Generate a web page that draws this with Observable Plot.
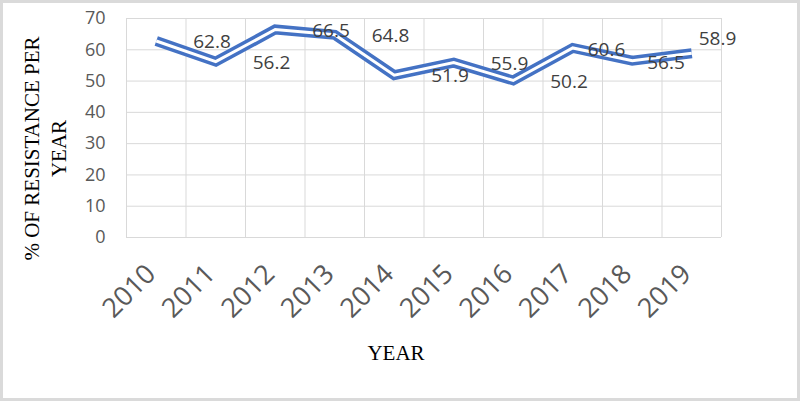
<!DOCTYPE html>
<html>
<head>
<meta charset="utf-8">
<script src="https://cdn.jsdelivr.net/npm/d3@7"></script>
<script src="https://cdn.jsdelivr.net/npm/@observablehq/plot@0.6"></script>
<style>
  html, body { margin: 0; padding: 0; background: #fff; }
  #wrap { position: relative; width: 800px; height: 401px; overflow: hidden; }
  #wrap svg { position: absolute; left: 0; top: 0; }
  #border { position: absolute; left: 0; top: 0; width: 800px; height: 401px; box-sizing: border-box; border: 3px solid #dadada; pointer-events: none; }
</style>
</head>
<body>
<div id="wrap"><div id="border"></div></div>
<script>
const years = [2010, 2011, 2012, 2013, 2014, 2015, 2016, 2017, 2018, 2019];
const resistance = [62.8, 56.2, 66.5, 64.8, 51.9, 55.9, 50.2, 60.6, 56.5, 58.9];
const yTicks = [0, 10, 20, 30, 40, 50, 60, 70];
const xTitle = "YEAR";
const yTitle = "% OF RESISTANCE PER\nYEAR";

const data = years.map((year, i) => ({year, value: resistance[i], i}));
const bounds = [years[0] - 0.5, ...years.map(y => y + 0.5)];

const sans = "'Open Sans', sans-serif";
const serif = "'Liberation Serif', 'Times New Roman', serif";

const chart = Plot.plot({
  width: 800,
  height: 401,
  marginLeft: 126,
  marginRight: 79,
  marginTop: 18,
  marginBottom: 164,
  style: {background: "transparent", overflow: "visible"},
  x: {type: "linear", domain: [years[0] - 0.5, years[years.length - 1] + 0.5], axis: null},
  y: {domain: [0, 70], axis: null},
  marks: [
    Plot.ruleY(yTicks, {stroke: "#d9d9d9", strokeWidth: 1}),
    Plot.ruleX(bounds, {stroke: "#d9d9d9", strokeWidth: 1}),
    Plot.text(yTicks, {y: d => d, frameAnchor: "left", dx: -21, textAnchor: "end", text: d => String(d), fill: "#595959", fontSize: 18, fontFamily: sans}),
    Plot.text(years, {x: d => d, frameAnchor: "bottom", rotate: -45, textAnchor: "end", dx: 1, dy: 38, text: d => String(d), fill: "#595959", fontSize: 27, fontFamily: sans}),
    Plot.line(data, {x: "year", y: "value", stroke: "#4472C4", strokeWidth: 10, strokeLinejoin: "miter", strokeLinecap: "butt", strokeMiterlimit: 10}),
    Plot.line(data, {x: "year", y: "value", stroke: "#ffffff", strokeWidth: 3, strokeLinejoin: "miter", strokeLinecap: "butt", strokeMiterlimit: 10}),
    Plot.text(data.filter(d => d.i < 7), {x: "year", y: "value", text: d => d.value.toFixed(1), textAnchor: "start", dx: 37, dy: 1, fill: "#404040", fontSize: 19, fontFamily: sans}),
    Plot.text(data.filter(d => d.i === 7 || d.i === 8), {x: "year", y: "value", text: d => d.value.toFixed(1), textAnchor: "start", dx: 15, dy: 2, fill: "#404040", fontSize: 19, fontFamily: sans}),
    Plot.text(data.filter(d => d.i === 9), {x: "year", y: "value", text: d => d.value.toFixed(1), textAnchor: "start", dx: 7, dy: -14, fill: "#404040", fontSize: 19, fontFamily: sans}),
    Plot.text([xTitle], {frameAnchor: "bottom", textAnchor: "middle", dx: -28, dy: 122, text: d => d, fill: "#000", fontSize: 21, fontFamily: serif}),
    Plot.text([yTitle], {frameAnchor: "left", textAnchor: "middle", rotate: -90, dx: -82.5, dy: 20.5, text: d => d, lineHeight: 1.29, fill: "#000", fontSize: 21, fontFamily: serif})
  ]
});
document.getElementById("wrap").insertBefore(chart, document.getElementById("border"));
</script>
</body>
</html>
